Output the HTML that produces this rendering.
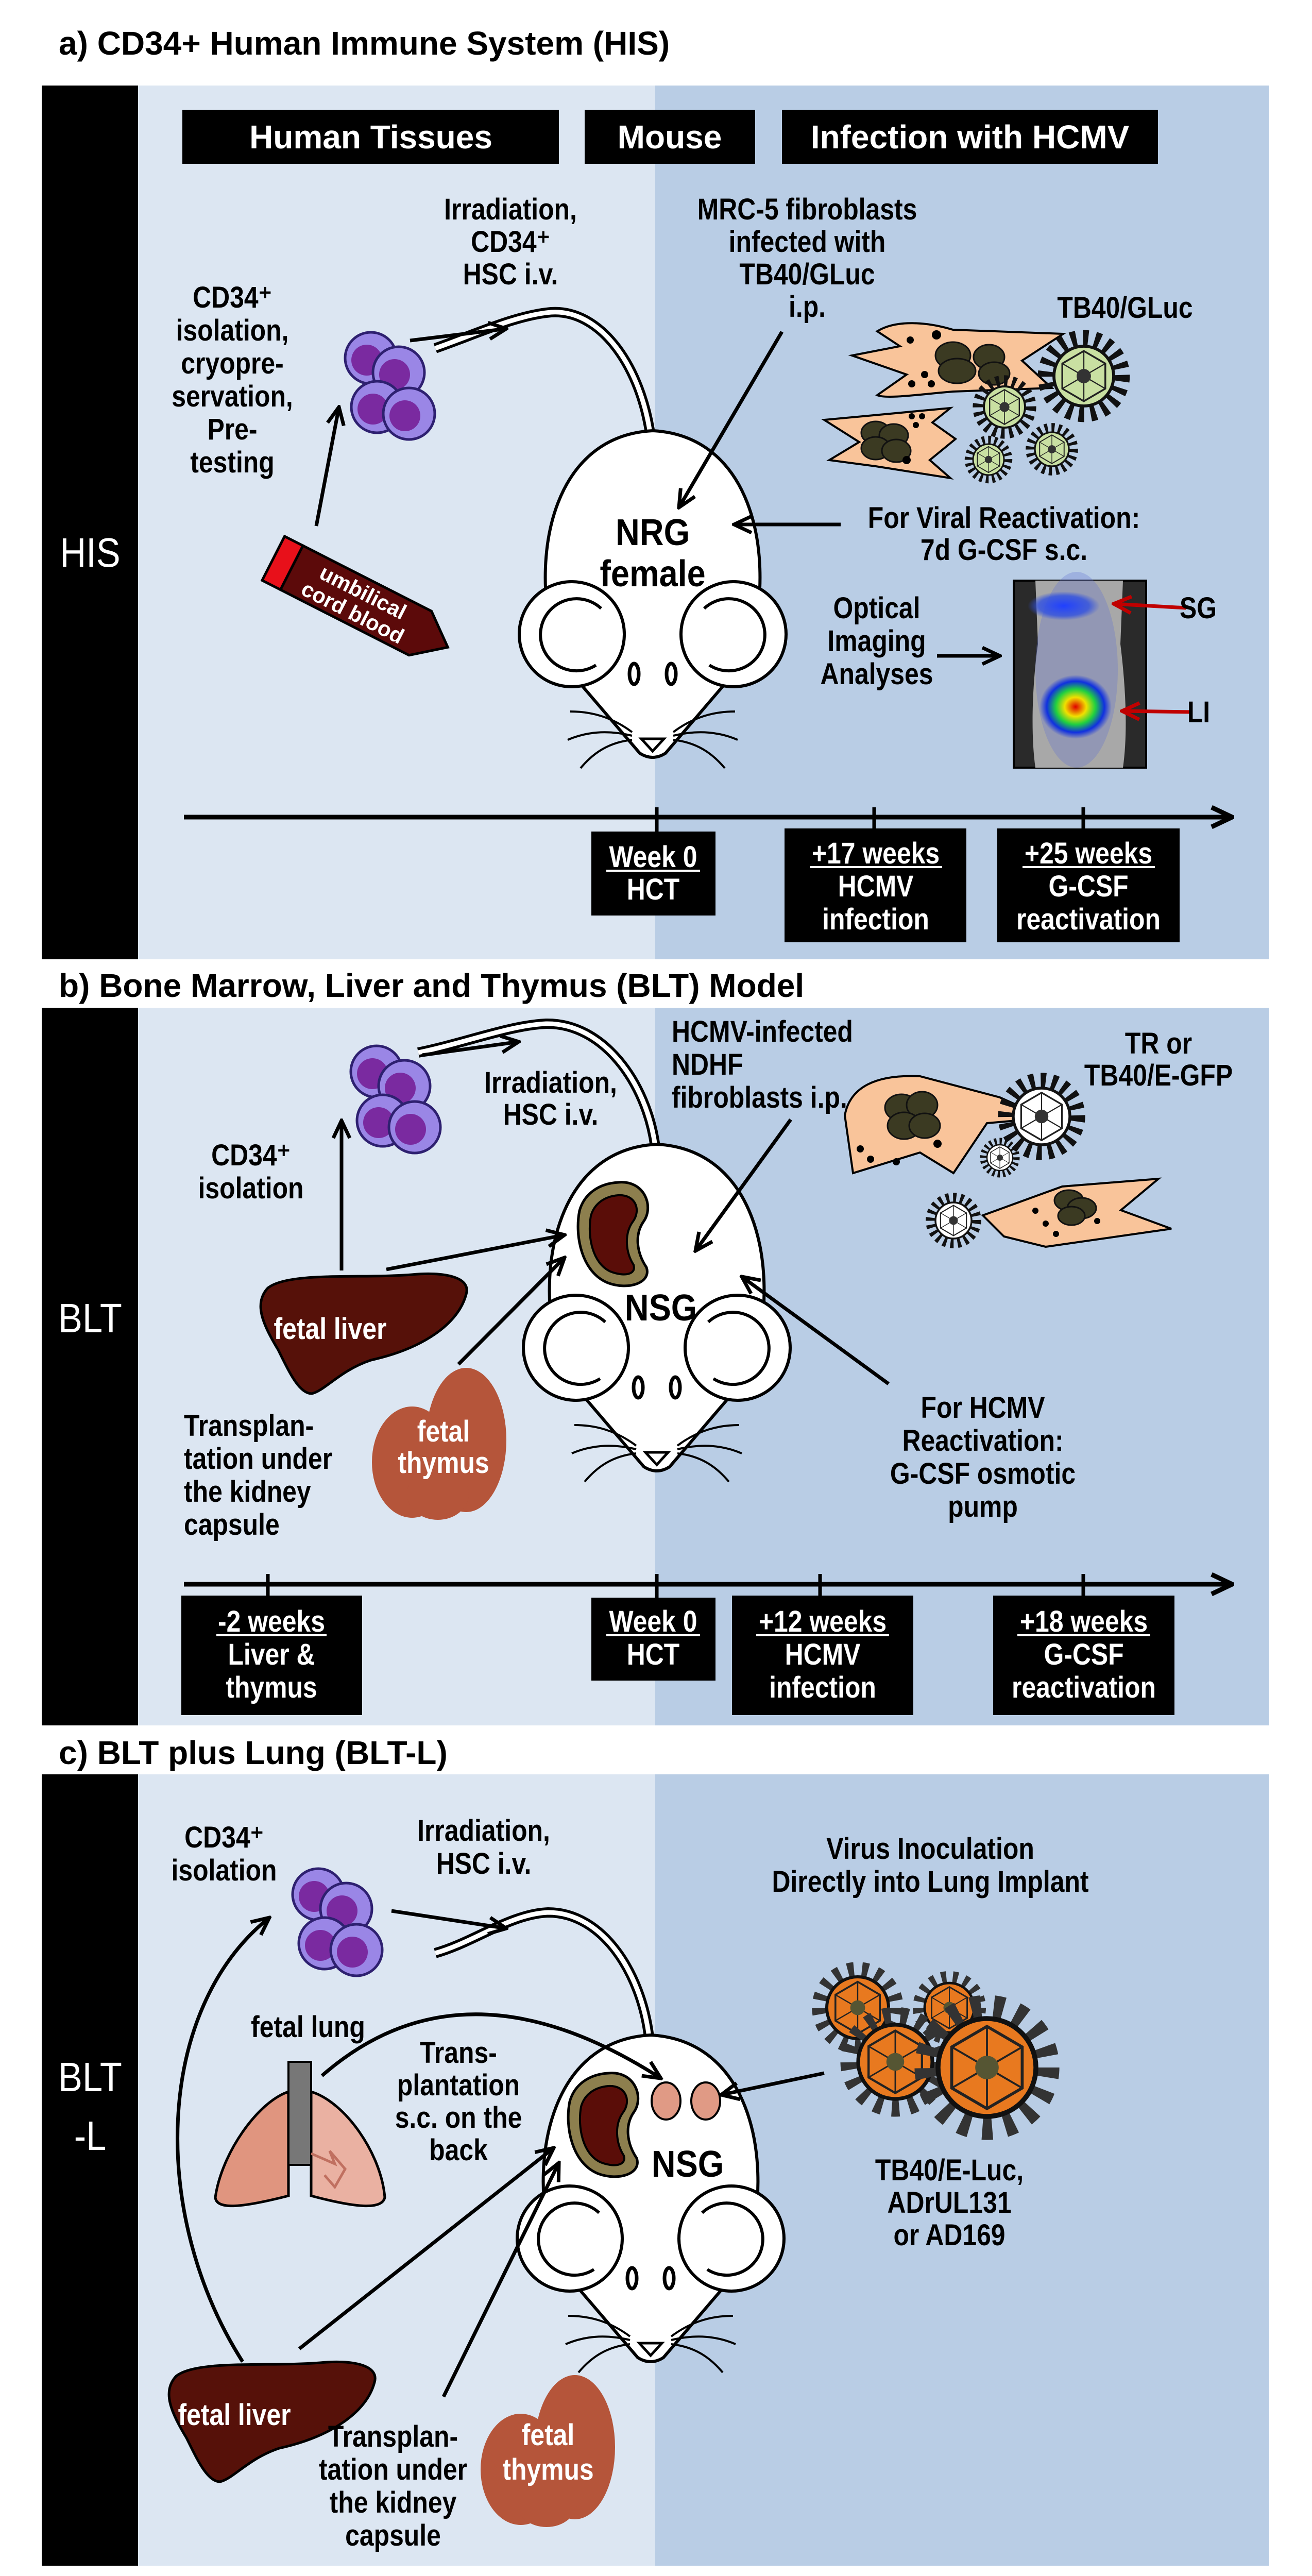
<!DOCTYPE html>
<html><head><meta charset="utf-8"><style>
html,body{margin:0;padding:0;background:#fff;width:2547px;height:5057px;overflow:hidden}
svg{display:block}
.t{font-family:"Liberation Sans",Arial,sans-serif;font-weight:bold;font-size:58px;text-anchor:middle;fill:#000}
.w{fill:#fff}
.s{text-anchor:start}
.h{font-family:"Liberation Sans",Arial,sans-serif;font-weight:bold;font-size:64px;fill:#fff;text-anchor:middle}
.ti{font-family:"Liberation Sans",Arial,sans-serif;font-weight:bold;font-size:64px;fill:#000}
.lab{font-family:"Liberation Sans",Arial,sans-serif;font-size:80px;fill:#fff;text-anchor:middle}
</style></head><body>
<svg width="2547" height="5057" viewBox="0 0 2547 5057" xmlns="http://www.w3.org/2000/svg">
<defs>
<marker id="ar" markerUnits="userSpaceOnUse" markerWidth="44" markerHeight="44" viewBox="0 0 44 44" refX="40" refY="22" orient="auto"><path d="M6,6 L40,22 L6,38" fill="none" stroke="#000" stroke-width="7"/></marker>
<marker id="arr" markerUnits="userSpaceOnUse" markerWidth="44" markerHeight="44" viewBox="0 0 44 44" refX="40" refY="22" orient="auto"><path d="M6,6 L40,22 L6,38" fill="none" stroke="#c00000" stroke-width="7"/></marker>
<marker id="tl" markerUnits="userSpaceOnUse" markerWidth="50" markerHeight="50" viewBox="0 0 50 50" refX="46" refY="25" orient="auto"><path d="M6,6 L46,25 L6,44" fill="none" stroke="#000" stroke-width="9"/></marker>
<g id="vG"><circle r="64" fill="none" stroke="#111" stroke-width="26" stroke-dasharray="9 11"/><circle r="50" fill="#c9e0a2" stroke="#111" stroke-width="5"/><polygon points="0,-42 36,-21 36,21 0,42 -36,21 -36,-21" fill="none" stroke="#222" stroke-width="3"/><path d="M0,-42 L0,42 M-36,-21 L36,21 M36,-21 L-36,21" stroke="#222" stroke-width="2"/><circle r="12" fill="#333"/></g>
<g id="vW"><circle r="64" fill="none" stroke="#111" stroke-width="26" stroke-dasharray="9 11"/><circle r="50" fill="#fff" stroke="#111" stroke-width="5"/><polygon points="0,-42 36,-21 36,21 0,42 -36,21 -36,-21" fill="none" stroke="#222" stroke-width="3"/><path d="M0,-42 L0,42 M-36,-21 L36,21 M36,-21 L-36,21" stroke="#222" stroke-width="2"/><circle r="12" fill="#333"/></g>
<g id="vO"><circle r="62" fill="none" stroke="#333" stroke-width="24" stroke-dasharray="10 13"/><circle r="50" fill="#e8791f" stroke="#111" stroke-width="5"/><polygon points="0,-42 36,-21 36,21 0,42 -36,21 -36,-21" fill="none" stroke="#222" stroke-width="3"/><path d="M0,-42 L0,42 M-36,-21 L36,21 M36,-21 L-36,21" stroke="#222" stroke-width="2"/><circle r="12" fill="#553"/></g>
<g id="cells">
<circle cx="-32" cy="-50" r="50" fill="#9a86e6" stroke="#2e2070" stroke-width="5"/><circle cx="-40" cy="-46" r="30" fill="#7a2aa0"/>
<circle cx="22" cy="-22" r="50" fill="#9a86e6" stroke="#2e2070" stroke-width="5"/><circle cx="14" cy="-18" r="30" fill="#7a2aa0"/>
<circle cx="-20" cy="45" r="50" fill="#9a86e6" stroke="#2e2070" stroke-width="5"/><circle cx="-28" cy="49" r="30" fill="#7a2aa0"/>
<circle cx="42" cy="58" r="50" fill="#9a86e6" stroke="#2e2070" stroke-width="5"/><circle cx="34" cy="62" r="30" fill="#7a2aa0"/>
</g>
<g id="mouse">
<path d="M-195,400 C-235,230 -190,10 0,0 C190,10 235,230 195,400 Z" fill="#fff" stroke="#000" stroke-width="6"/>
<path d="M-210,390 L-150,480 L-25,626 Q0,642 25,626 L150,480 L210,390 Z" fill="#fff"/>
<path d="M-150,480 L-25,626 Q0,642 25,626 L150,480" fill="none" stroke="#000" stroke-width="6"/>
<circle cx="-157" cy="395" r="102" fill="#fff" stroke="#000" stroke-width="6"/>
<path d="M-110,455 A70,70 0 1 1 -100,345" fill="none" stroke="#000" stroke-width="6"/>
<circle cx="157" cy="395" r="102" fill="#fff" stroke="#000" stroke-width="6"/>
<path d="M110,455 A70,70 0 1 0 100,345" fill="none" stroke="#000" stroke-width="6"/>
<ellipse cx="-36" cy="472" rx="9" ry="20" fill="none" stroke="#000" stroke-width="7"/>
<ellipse cx="36" cy="472" rx="9" ry="20" fill="none" stroke="#000" stroke-width="7"/>
<path d="M-22,598 L22,598 L0,622 Z" fill="#fff" stroke="#000" stroke-width="5"/>
<path d="M-40,585 C-80,555 -120,545 -160,545 M-40,592 C-90,580 -130,585 -165,600 M-40,600 C-85,605 -115,625 -140,655 M40,585 C80,555 120,545 160,545 M40,592 C90,580 130,585 165,600 M40,600 C85,605 115,625 140,655" fill="none" stroke="#000" stroke-width="4"/>
</g>
<g id="liver"><path d="M520,2500 C560,2468 700,2482 800,2474 C860,2468 915,2478 905,2512 C890,2570 820,2618 720,2640 C660,2660 630,2700 605,2705 C580,2705 560,2660 540,2620 C510,2570 492,2530 520,2500 Z" fill="#561109" stroke="#000" stroke-width="5"/></g>
<g id="thymus"><ellipse cx="800" cy="2838" rx="78" ry="108" fill="#b5553a"/><ellipse cx="905" cy="2795" rx="78" ry="140" fill="#b5553a"/><ellipse cx="850" cy="2900" rx="60" ry="50" fill="#b5553a"/></g>
<g id="kidney"><path d="M1200,2295 C1250,2290 1270,2340 1250,2370 C1232,2395 1235,2430 1255,2460 C1265,2490 1220,2505 1180,2490 C1130,2470 1115,2400 1125,2350 C1135,2315 1165,2297 1200,2295 Z" fill="#8d7f4e" stroke="#000" stroke-width="5"/>
<path d="M1200,2320 C1235,2318 1245,2350 1228,2372 C1212,2395 1214,2430 1230,2455 C1236,2475 1210,2478 1185,2468 C1150,2452 1140,2400 1147,2360 C1154,2335 1175,2322 1200,2320 Z" fill="#5a0d08" stroke="#000" stroke-width="4"/></g>
<radialGradient id="li" cx="0.5" cy="0.5" r="0.5"><stop offset="0" stop-color="#e00000"/><stop offset="0.3" stop-color="#f0e000"/><stop offset="0.55" stop-color="#20d040"/><stop offset="0.8" stop-color="#1030e0"/><stop offset="1" stop-color="#1030e0" stop-opacity="0"/></radialGradient>
<radialGradient id="bl" cx="0.5" cy="0.5" r="0.5"><stop offset="0" stop-color="#2040ff"/><stop offset="0.7" stop-color="#3050e0" stop-opacity="0.8"/><stop offset="1" stop-color="#3050e0" stop-opacity="0"/></radialGradient>
</defs>

<!-- ================= PANEL A ================= -->
<text class="ti" x="114" y="106">a) CD34+ Human Immune System (HIS)</text>
<rect x="81" y="166" width="187" height="1696" fill="#000"/>
<rect x="268" y="166" width="1004" height="1696" fill="#dce6f2"/>
<rect x="1272" y="166" width="1192" height="1696" fill="#b9cde5"/>
<rect x="354" y="213" width="731" height="105" fill="#000"/>
<rect x="1135" y="213" width="331" height="105" fill="#000"/>
<rect x="1518" y="213" width="730" height="105" fill="#000"/>
<text class="h" x="720" y="288">Human Tissues</text>
<text class="h" x="1300" y="288">Mouse</text>
<text class="h" x="1883" y="288">Infection with HCMV</text>
<g transform="translate(175,1100) scale(.88,1)"><text class="lab">HIS</text></g>

<g transform="translate(991,426) scale(.86,1)"><text class="t"><tspan x="0" y="0">Irradiation,</tspan><tspan x="0" dy="63">CD34⁺</tspan><tspan x="0" dy="63">HSC i.v.</tspan></text></g>
<g transform="translate(451,597) scale(.86,1)"><text class="t"><tspan x="0" y="0">CD34⁺</tspan><tspan x="0" dy="64">isolation,</tspan><tspan x="0" dy="64">cryopre-</tspan><tspan x="0" dy="64">servation,</tspan><tspan x="0" dy="64">Pre-</tspan><tspan x="0" dy="64">testing</tspan></text></g>
<g transform="translate(1567,426) scale(.86,1)"><text class="t"><tspan x="0" y="0">MRC-5 fibroblasts</tspan><tspan x="0" dy="63">infected with</tspan><tspan x="0" dy="63">TB40/GLuc</tspan><tspan x="0" dy="63">i.p.</tspan></text></g>
<g transform="translate(2184,617) scale(.86,1)"><text class="t">TB40/GLuc</text></g>
<g transform="translate(1949,1025) scale(.86,1)"><text class="t"><tspan x="0" y="0">For Viral Reactivation:</tspan><tspan x="0" dy="62">7d G-CSF s.c.</tspan></text></g>
<g transform="translate(1702,1200) scale(.86,1)"><text class="t"><tspan x="0" y="0">Optical</tspan><tspan x="0" dy="64">Imaging</tspan><tspan x="0" dy="64">Analyses</tspan></text></g>

<path d="M1262,840 C1240,700 1160,600 1070,606 C1000,612 920,650 845,676" fill="none" stroke="#000" stroke-width="20"/>
<path d="M1262,840 C1240,700 1160,600 1070,606 C1000,612 920,650 845,676" fill="none" stroke="#fff" stroke-width="9"/>
<use href="#mouse" transform="translate(1267,836)"/>
<g transform="translate(1267,1058) scale(.9,1)"><text class="t" style="font-size:72px"><tspan x="0" y="0">NRG</tspan><tspan x="0" dy="80">female</tspan></text></g>

<use href="#cells" transform="translate(752,745)"/>
<line x1="796" y1="661" x2="983" y2="638" stroke="#000" stroke-width="7" marker-end="url(#ar)"/>
<g transform="translate(700,1170) rotate(27)">
<rect x="-190" y="-48" width="40" height="96" fill="#e8101a" stroke="#000" stroke-width="5"/>
<path d="M-150,-48 L130,-48 L190,0 L130,48 L-150,48 Z" fill="#5c0a0a" stroke="#000" stroke-width="5"/>
<text class="t w" style="font-size:42px" x="-5" y="-6">umbilical</text>
<text class="t w" style="font-size:42px" x="-5" y="38">cord blood</text>
</g>
<line x1="614" y1="1021" x2="658" y2="790" stroke="#000" stroke-width="7" marker-end="url(#ar)"/>

<path d="M1703,643 C1740,620 1800,625 1850,640 L2064,648 L1984,700 L2042,753 L1850,760 C1790,765 1720,775 1703,767 L1760,727 L1654,690 L1747,672 Z" fill="#f9c49a" stroke="#000" stroke-width="4"/>
<g fill="#3b3a22" stroke="#111" stroke-width="3"><ellipse cx="1850" cy="690" rx="34" ry="26"/><ellipse cx="1858" cy="720" rx="36" ry="24"/><ellipse cx="1920" cy="693" rx="30" ry="24"/><ellipse cx="1930" cy="725" rx="30" ry="22"/></g>
<g fill="#000"><circle cx="1818" cy="650" r="9"/><circle cx="1767" cy="660" r="7"/><circle cx="1795" cy="727" r="7"/><circle cx="1770" cy="745" r="7"/><circle cx="1808" cy="745" r="7"/></g>
<path d="M1600,815 L1845,792 L1810,820 L1855,852 L1805,893 L1845,928 L1700,905 L1610,893 L1668,858 Z" fill="#f9c49a" stroke="#000" stroke-width="4"/>
<g fill="#3b3a22" stroke="#111" stroke-width="3"><ellipse cx="1700" cy="840" rx="28" ry="22"/><ellipse cx="1735" cy="845" rx="28" ry="22"/><ellipse cx="1700" cy="870" rx="28" ry="22"/><ellipse cx="1740" cy="875" rx="28" ry="22"/></g>
<g fill="#000"><circle cx="1770" cy="808" r="6"/><circle cx="1790" cy="808" r="6"/><circle cx="1778" cy="825" r="6"/><circle cx="1760" cy="893" r="8"/></g>
<use href="#vG" transform="translate(1919,892) scale(.6)"/>
<use href="#vG" transform="translate(2042,872) scale(.66)"/>
<use href="#vG" transform="translate(1950,790) scale(.8)"/>
<use href="#vG" transform="translate(2104,730) scale(1.16)"/>
<line x1="1518" y1="644" x2="1318" y2="985" stroke="#000" stroke-width="7" marker-end="url(#ar)"/>
<line x1="1632" y1="1018" x2="1425" y2="1018" stroke="#000" stroke-width="7" marker-end="url(#ar)"/>
<rect x="1968" y="1127" width="257" height="363" fill="#2a2a2a" stroke="#000" stroke-width="4"/>
<path d="M2010,1127 L2180,1127 L2175,1250 C2185,1330 2190,1420 2180,1490 L2010,1490 C2000,1420 2005,1320 2015,1250 Z" fill="#a8a8a8"/>
<ellipse cx="2090" cy="1300" rx="80" ry="190" fill="#6070d0" opacity="0.3"/>
<ellipse cx="2065" cy="1176" rx="70" ry="28" fill="url(#bl)"/>
<ellipse cx="2088" cy="1372" rx="70" ry="62" fill="url(#li)"/>
<line x1="2303" y1="1180" x2="2162" y2="1172" stroke="#c00000" stroke-width="7" marker-end="url(#arr)"/>
<line x1="2314" y1="1382" x2="2178" y2="1380" stroke="#c00000" stroke-width="7" marker-end="url(#arr)"/>
<line x1="1819" y1="1273" x2="1941" y2="1273" stroke="#000" stroke-width="7" marker-end="url(#ar)"/>
<g transform="translate(2326,1200) scale(.86,1)"><text class="t">SG</text></g>
<g transform="translate(2327,1402) scale(.86,1)"><text class="t">LI</text></g>

<line x1="357" y1="1586" x2="2392" y2="1586" stroke="#000" stroke-width="9" marker-end="url(#tl)"/>
<g stroke="#000" stroke-width="7"><line x1="1275" y1="1567" x2="1275" y2="1614"/><line x1="1697" y1="1567" x2="1697" y2="1610"/><line x1="2103" y1="1567" x2="2103" y2="1610"/></g>
<rect x="1148" y="1614" width="241" height="163" fill="#000"/>
<rect x="1523" y="1608" width="353" height="221" fill="#000"/>
<rect x="1936" y="1608" width="354" height="221" fill="#000"/>
<g transform="translate(1268,1683) scale(.86,1)"><text class="t w"><tspan x="0" y="0">Week 0</tspan><tspan x="0" dy="63">HCT</tspan></text></g>
<g transform="translate(1700,1676) scale(.86,1)"><text class="t w"><tspan x="0" y="0">+17 weeks</tspan><tspan x="0" dy="64">HCMV</tspan><tspan x="0" dy="64">infection</tspan></text></g>
<g transform="translate(2113,1676) scale(.86,1)"><text class="t w"><tspan x="0" y="0">+25 weeks</tspan><tspan x="0" dy="64">G-CSF</tspan><tspan x="0" dy="64">reactivation</tspan></text></g>
<g stroke="#fff" stroke-width="4"><line x1="1177" y1="1690" x2="1359" y2="1690"/><line x1="1572" y1="1683" x2="1829" y2="1683"/><line x1="1985" y1="1683" x2="2242" y2="1683"/></g>

<!-- ================= PANEL B ================= -->
<text class="ti" x="114" y="1935">b) Bone Marrow, Liver and Thymus (BLT) Model</text>
<rect x="81" y="1956" width="187" height="1393" fill="#000"/>
<rect x="268" y="1956" width="1004" height="1393" fill="#dce6f2"/>
<rect x="1272" y="1956" width="1192" height="1393" fill="#b9cde5"/>
<g transform="translate(175,2586) scale(.88,1)"><text class="lab">BLT</text></g>

<path d="M1272,2225 C1255,2100 1170,1985 1060,1987 C990,1990 900,2025 812,2043" fill="none" stroke="#000" stroke-width="20"/>
<path d="M1272,2225 C1255,2100 1170,1985 1060,1987 C990,1990 900,2025 812,2043" fill="none" stroke="#fff" stroke-width="9"/>
<use href="#mouse" transform="translate(1275,2221)"/>
<use href="#kidney"/>
<g transform="translate(1283,2563) scale(.9,1)"><text class="t" style="font-size:72px">NSG</text></g>
<use href="#cells" transform="translate(763,2130)"/>
<line x1="820" y1="2048" x2="1007" y2="2022" stroke="#000" stroke-width="7" marker-end="url(#ar)"/>
<g transform="translate(1069,2121) scale(.86,1)"><text class="t"><tspan x="0" y="0">Irradiation,</tspan><tspan x="0" dy="62">HSC i.v.</tspan></text></g>
<g transform="translate(487,2262) scale(.86,1)"><text class="t"><tspan x="0" y="0">CD34⁺</tspan><tspan x="0" dy="64">isolation</tspan></text></g>
<g transform="translate(1304,2022) scale(.86,1)"><text class="t s"><tspan x="0" y="0">HCMV-infected</tspan><tspan x="0" dy="64">NDHF</tspan><tspan x="0" dy="64">fibroblasts i.p.</tspan></text></g>
<g transform="translate(2249,2045) scale(.86,1)"><text class="t"><tspan x="0" y="0">TR or</tspan><tspan x="0" dy="62">TB40/E-GFP</tspan></text></g>
<g transform="translate(1908,2752) scale(.86,1)"><text class="t"><tspan x="0" y="0">For HCMV</tspan><tspan x="0" dy="64">Reactivation:</tspan><tspan x="0" dy="64">G-CSF osmotic</tspan><tspan x="0" dy="64">pump</tspan></text></g>
<g transform="translate(357,2787) scale(.86,1)"><text class="t s"><tspan x="0" y="0">Transplan-</tspan><tspan x="0" dy="64">tation under</tspan><tspan x="0" dy="64">the kidney</tspan><tspan x="0" dy="64">capsule</tspan></text></g>
<use href="#liver"/>
<g transform="translate(641,2599) scale(.86,1)"><text class="t w">fetal liver</text></g>
<use href="#thymus"/>
<g transform="translate(861,2798) scale(.86,1)"><text class="t w"><tspan x="0" y="0">fetal</tspan><tspan x="0" dy="61">thymus</tspan></text></g>
<path d="M1640,2165 C1650,2110 1700,2085 1786,2089 L1941,2130 L2030,2170 L1916,2180 L1851,2277 L1786,2237 L1656,2277 Z" fill="#f9c49a" stroke="#000" stroke-width="4"/>
<g fill="#3b3a22" stroke="#111" stroke-width="3"><ellipse cx="1750" cy="2150" rx="32" ry="26"/><ellipse cx="1790" cy="2145" rx="30" ry="26"/><ellipse cx="1755" cy="2185" rx="32" ry="26"/><ellipse cx="1795" cy="2185" rx="30" ry="24"/></g>
<g fill="#000"><circle cx="1670" cy="2230" r="7"/><circle cx="1690" cy="2250" r="7"/><circle cx="1740" cy="2255" r="7"/><circle cx="1820" cy="2220" r="8"/></g>
<path d="M1908,2359 L2062,2303 L2249,2288 L2176,2349 L2274,2385 L2030,2420 L1949,2400 Z" fill="#f9c49a" stroke="#000" stroke-width="4"/>
<g fill="#3b3a22" stroke="#111" stroke-width="3"><ellipse cx="2075" cy="2330" rx="28" ry="20"/><ellipse cx="2100" cy="2345" rx="28" ry="20"/><ellipse cx="2080" cy="2360" rx="26" ry="18"/></g>
<g fill="#000"><circle cx="2010" cy="2350" r="6"/><circle cx="2030" cy="2375" r="6"/><circle cx="2050" cy="2395" r="6"/><circle cx="2130" cy="2370" r="6"/></g>
<use href="#vW" transform="translate(1941,2247) scale(.5)"/>
<use href="#vW" transform="translate(1851,2369) scale(.7)"/>
<use href="#vW" transform="translate(2022,2167) scale(1.1)"/>
<line x1="1535" y1="2173" x2="1350" y2="2428" stroke="#000" stroke-width="7" marker-end="url(#ar)"/>
<line x1="750" y1="2464" x2="1096" y2="2397" stroke="#000" stroke-width="7" marker-end="url(#ar)"/>
<line x1="890" y1="2648" x2="1096" y2="2441" stroke="#000" stroke-width="7" marker-end="url(#ar)"/>
<line x1="1725" y1="2686" x2="1440" y2="2478" stroke="#000" stroke-width="7" marker-end="url(#ar)"/>
<line x1="663" y1="2466" x2="663" y2="2175" stroke="#000" stroke-width="7" marker-end="url(#ar)"/>

<line x1="357" y1="3075" x2="2392" y2="3075" stroke="#000" stroke-width="9" marker-end="url(#tl)"/>
<g stroke="#000" stroke-width="7"><line x1="520" y1="3055" x2="520" y2="3097"/><line x1="1275" y1="3055" x2="1275" y2="3101"/><line x1="1592" y1="3055" x2="1592" y2="3097"/><line x1="2103" y1="3055" x2="2103" y2="3097"/></g>
<rect x="352" y="3097" width="351" height="232" fill="#000"/>
<rect x="1148" y="3101" width="241" height="161" fill="#000"/>
<rect x="1421" y="3097" width="352" height="232" fill="#000"/>
<rect x="1928" y="3097" width="352" height="232" fill="#000"/>
<g transform="translate(527,3167) scale(.86,1)"><text class="t w"><tspan x="0" y="0">-2 weeks</tspan><tspan x="0" dy="64">Liver &amp;</tspan><tspan x="0" dy="64">thymus</tspan></text></g>
<g transform="translate(1268,3167) scale(.86,1)"><text class="t w"><tspan x="0" y="0">Week 0</tspan><tspan x="0" dy="64">HCT</tspan></text></g>
<g transform="translate(1597,3167) scale(.86,1)"><text class="t w"><tspan x="0" y="0">+12 weeks</tspan><tspan x="0" dy="64">HCMV</tspan><tspan x="0" dy="64">infection</tspan></text></g>
<g transform="translate(2104,3167) scale(.86,1)"><text class="t w"><tspan x="0" y="0">+18 weeks</tspan><tspan x="0" dy="64">G-CSF</tspan><tspan x="0" dy="64">reactivation</tspan></text></g>
<g stroke="#fff" stroke-width="4"><line x1="420" y1="3174" x2="634" y2="3174"/><line x1="1177" y1="3174" x2="1359" y2="3174"/><line x1="1468" y1="3174" x2="1726" y2="3174"/><line x1="1975" y1="3174" x2="2233" y2="3174"/></g>

<!-- ================= PANEL C ================= -->
<text class="ti" x="114" y="3424">c) BLT plus Lung (BLT-L)</text>
<rect x="81" y="3444" width="187" height="1536" fill="#000"/>
<rect x="268" y="3444" width="1004" height="1536" fill="#dce6f2"/>
<rect x="1272" y="3444" width="1192" height="1536" fill="#b9cde5"/>
<g transform="translate(175,4059) scale(.88,1)"><text class="lab"><tspan x="0" y="0">BLT</tspan><tspan x="0" dy="114">-L</tspan></text></g>

<path d="M1260,3954 C1245,3830 1170,3712 1064,3712 C990,3715 920,3770 845,3791" fill="none" stroke="#000" stroke-width="20"/>
<path d="M1260,3954 C1245,3830 1170,3712 1064,3712 C990,3715 920,3770 845,3791" fill="none" stroke="#fff" stroke-width="9"/>
<use href="#mouse" transform="translate(1263,3950)"/>
<use href="#kidney" transform="translate(-19,1729)"/>
<ellipse cx="1293" cy="4078" rx="28" ry="36" fill="#e09a85" stroke="#000" stroke-width="4"/>
<ellipse cx="1370" cy="4078" rx="28" ry="36" fill="#e09a85" stroke="#000" stroke-width="4"/>
<g transform="translate(1335,4225) scale(.9,1)"><text class="t" style="font-size:72px">NSG</text></g>
<use href="#cells" transform="translate(650,3727)"/>
<line x1="760" y1="3709" x2="983" y2="3743" stroke="#000" stroke-width="7" marker-end="url(#ar)"/>
<g transform="translate(435,3586) scale(.86,1)"><text class="t"><tspan x="0" y="0">CD34⁺</tspan><tspan x="0" dy="64">isolation</tspan></text></g>
<g transform="translate(939,3573) scale(.86,1)"><text class="t"><tspan x="0" y="0">Irradiation,</tspan><tspan x="0" dy="64">HSC i.v.</tspan></text></g>
<g transform="translate(1806,3608) scale(.86,1)"><text class="t"><tspan x="0" y="0">Virus Inoculation</tspan><tspan x="0" dy="64">Directly into Lung Implant</tspan></text></g>
<g transform="translate(598,3954) scale(.86,1)"><text class="t">fetal lung</text></g>
<g transform="translate(890,4004) scale(.86,1)"><text class="t"><tspan x="0" y="0">Trans-</tspan><tspan x="0" dy="63">plantation</tspan><tspan x="0" dy="63">s.c. on the</tspan><tspan x="0" dy="63">back</tspan></text></g>
<g transform="translate(1843,4232) scale(.86,1)"><text class="t"><tspan x="0" y="0">TB40/E-Luc,</tspan><tspan x="0" dy="63">ADrUL131</tspan><tspan x="0" dy="63">or AD169</tspan></text></g>
<path d="M560,4060 C500,4080 430,4180 418,4265 C420,4290 470,4285 560,4262 Z" fill="#e0957f" stroke="#000" stroke-width="5"/>
<path d="M604,4060 C670,4080 740,4180 747,4265 C742,4290 690,4285 604,4262 Z" fill="#eab1a2" stroke="#000" stroke-width="5"/>
<rect x="560" y="4002" width="44" height="200" fill="#777" stroke="#000" stroke-width="4"/>
<path d="M604,4180 L650,4200 L640,4175 L670,4210 L650,4245 L630,4222" fill="none" stroke="#c07060" stroke-width="5"/>
<use href="#vO" transform="translate(1665,3897) scale(1.2)"/>
<use href="#vO" transform="translate(1843,3897) scale(.96)"/>
<use href="#vO" transform="translate(1738,4002) scale(1.44)"/>
<use href="#vO" transform="translate(1916,4013) scale(1.9)"/>
<line x1="1600" y1="4024" x2="1400" y2="4066" stroke="#000" stroke-width="7" marker-end="url(#ar)"/>
<use href="#liver" transform="translate(-178,2112)"/>
<g transform="translate(455,4707) scale(.86,1)"><text class="t w">fetal liver</text></g>
<use href="#thymus" transform="translate(211,1955)"/>
<g transform="translate(1064,4746) scale(.86,1)"><text class="t w"><tspan x="0" y="0">fetal</tspan><tspan x="0" dy="67">thymus</tspan></text></g>
<g transform="translate(763,4749) scale(.86,1)"><text class="t"><tspan x="0" y="0">Transplan-</tspan><tspan x="0" dy="64">tation under</tspan><tspan x="0" dy="64">the kidney</tspan><tspan x="0" dy="64">capsule</tspan></text></g>
<path d="M625,4029 Q900,3788 1283,4034" fill="none" stroke="#000" stroke-width="7" marker-end="url(#ar)"/>
<path d="M471,4584 C290,4300 300,3900 523,3722" fill="none" stroke="#000" stroke-width="7" marker-end="url(#ar)"/>
<line x1="581" y1="4559" x2="1075" y2="4169" stroke="#000" stroke-width="7" marker-end="url(#ar)"/>
<line x1="861" y1="4652" x2="1085" y2="4198" stroke="#000" stroke-width="7" marker-end="url(#ar)"/>
</svg>
</body></html>
